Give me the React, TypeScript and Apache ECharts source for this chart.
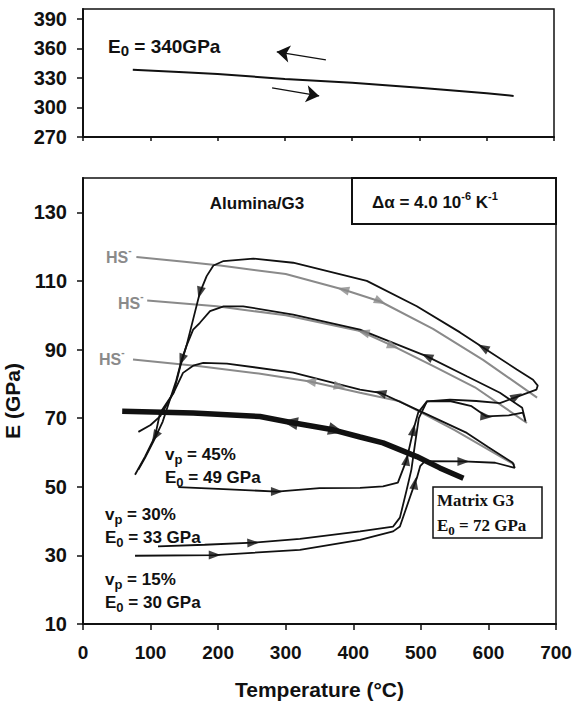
import React, { useEffect, useRef } from 'react';
import * as echarts from 'echarts';

const SANS = '"Liberation Sans", Arial, Helvetica, sans-serif';
const SERIF = '"Liberation Serif", "Times New Roman", serif';
const BLACK = '#111111';
const GRAY = '#8a8a8a';

// ---- data ----
const topYTicks = [270, 300, 330, 360, 390];
const bottomYTicks = [10, 30, 50, 70, 90, 110, 130];

// top panel: monolithic alumina, E0 = 340 GPa
const alumina: number[][] = [[74, 338.2], [150, 335.8], [200, 334], [300, 329], [400, 325], [500, 320], [600, 314.5], [640, 311.7]];
const topCoolArrow: number[][] = [[361, 348.3], [288, 356.5]];
const topHeatArrow: number[][] = [[281, 319.8], [351, 311.7]];

// Hashin-Shtrikman bounds (grey)
const hsUpper: number[][] = [[79, 117], [150, 115.6], [203, 114.5], [300, 112], [385, 107.5], [440, 104], [518, 96], [592, 87], [672, 76]];
const hsMiddle: number[][] = [[95, 104.3], [198, 102.6], [300, 100], [410, 95.4], [459, 91], [520, 85], [580, 79], [657, 68.6]];
const hsLower: number[][] = [[74, 87.1], [173, 85.1], [260, 83], [336, 80.7], [410, 77.4], [469, 74.9], [550, 66.5], [639, 56.4]];

// composites (black)
const vp45: number[][] = [[141, 49.9], [200, 49.4], [287, 48.6], [350, 49.6], [410, 49.7], [444, 50.1], [466, 51.2], [479, 57.9], [489, 66.6], [496, 71.6], [509, 74.9], [543, 75.4], [582, 75], [617, 74.4], [645, 76.4], [671, 78.3], [673, 79.5], [666, 81.2], [642, 84.2], [592, 90.6], [558, 95], [494, 102.6], [420, 110], [311, 115.3], [252, 116.5], [208, 115.8], [193, 114.5], [183, 111.4], [173, 106.6], [163, 98.8], [153, 91], [144, 85.1], [134, 77.4], [114, 71.5], [106.6, 64.7], [91.8, 58.8], [77, 53.5]];
const vp30: number[][] = [[111, 32.6], [180, 33.1], [252, 33.7], [321, 34.8], [410, 37], [459, 38.4], [469, 41], [479, 49.1], [486, 55], [491, 62], [497, 70], [509, 74.9], [543, 75], [575, 73.5], [597, 70.5], [630, 70.8], [651, 71.6], [655, 69], [650, 73], [617, 77.4], [568, 82.2], [509, 88], [410, 95.8], [311, 100.2], [237, 102.6], [208, 102.6], [188, 101.2], [173, 97.8], [163, 95.8], [153, 91], [146, 87], [138, 81], [128, 75], [118, 69], [105, 63.5], [92, 58.5], [82, 55]];
const vp15: number[][] = [[77, 29.9], [195, 30.1], [321, 31.6], [410, 34.5], [459, 37], [469, 38.4], [477, 43], [484, 47], [491, 51], [494, 52.5], [499, 56], [506, 57.5], [563, 57.4], [610, 57], [639, 55.5], [636, 57], [600, 61.5], [568, 65.7], [494, 72.5], [440, 77.4], [410, 78.3], [311, 83.3], [213, 85.9], [178, 86.1], [163, 85.3], [148, 83.2], [134, 77.4], [114, 70.5], [100, 68], [82, 66]];
const matrixG3: number[][] = [[58, 72], [163, 71.5], [262, 70.5], [306, 68.8], [370, 66.6], [410, 64.5], [444, 62.8], [494, 58.8], [528, 55.5], [563, 52.5]];

// arrow heads: [T, E, direction in degrees]
const blackArrows: number[][] = [[287, 48.6, 0], [195, 30.1, 0], [252, 33.7, 2], [479, 57.9, 80], [489, 66.6, 80], [491, 51, 80], [563, 57.4, 0], [597, 70.5, -5], [642, 76.4, 30], [592, 90.6, 150], [509, 88, 155], [440, 77.4, 165], [173, 106.6, 255], [146, 87, 250], [106.6, 64.7, 240]];
const grayArrows: number[][] = [[385, 107.5, 165], [440, 104, -25], [415, 95, 165], [459, 91, -20], [336, 80.7, 170], [380, 79.3, -10]];
const matrixArrows: number[][] = [[306, 68.8, 170], [375, 66.4, -15]];

const richBase = (size: number, family: string, color: string) => ({
  n: { fontSize: size, fontWeight: 'bold', fontFamily: family, fill: color, color, lineHeight: 24 },
  sub: { fontSize: size - 4, fontWeight: 'bold', fontFamily: family, fill: color, color, lineHeight: 14, verticalAlign: 'bottom' },
  sup: { fontSize: size - 6, fontWeight: 'bold', fontFamily: family, fill: color, color, lineHeight: 14, verticalAlign: 'top' },
});

function label(text: string, x: number, y: number, size = 17, family = SANS, color = BLACK, align = 'left') {
  return {
    type: 'text',
    x,
    y,
    z: 100,
    style: {
      text,
      fill: color,
      font: `bold ${size}px ${family}`,
      align,
      verticalAlign: 'middle',
      rich: richBase(size, family, color),
    },
  };
}

const arrowSeries = (name: string, data: number[][], color: string, size: number[], xi: number) => ({
  name,
  type: 'scatter',
  xAxisIndex: xi,
  yAxisIndex: xi,
  symbol: 'triangle',
  symbolSize: size,
  itemStyle: { color },
  silent: true,
  z: 5,
  data: data.map((d) => ({ value: [d[0], d[1]], symbolRotate: d[2] - 90 })),
});

const lineSeries = (name: string, data: number[][], color: string, width: number, xi: number, z = 3) => ({
  name,
  type: 'line',
  xAxisIndex: xi,
  yAxisIndex: xi,
  data,
  showSymbol: false,
  symbol: 'none',
  lineStyle: { color, width },
  silent: true,
  z,
});

export default function App() {
  const ref = useRef<HTMLDivElement>(null);
  useEffect(() => {
    if (!ref.current) return;
    const chart = echarts.init(ref.current, undefined, { renderer: 'svg' });
    const axisLabelStyle = { color: BLACK, fontFamily: SANS, fontWeight: 'bold', fontSize: 20 };
    const option: any = {
      animation: false,
      backgroundColor: '#ffffff',
      grid: [
        { left: 83, right: 19, top: 9, height: 128, show: true, borderColor: BLACK, borderWidth: 1.5, containLabel: false, outerBoundsMode: 'none' },
        { left: 83, right: 17, top: 178, height: 446, show: true, borderColor: BLACK, borderWidth: 1.5, containLabel: false, outerBoundsMode: 'none' },
      ],
      xAxis: [
        {
          gridIndex: 0, type: 'value', min: 0, max: 700, interval: 100,
          axisLine: { onZero: false, lineStyle: { color: BLACK, width: 2 } },
          axisTick: { show: true, inside: false, length: 4, lineStyle: { color: BLACK, width: 1.5 } },
          axisLabel: { show: false },
          splitLine: { show: false },
        },
        {
          gridIndex: 1, type: 'value', min: 0, max: 700, interval: 100,
          name: 'Temperature (°C)', nameLocation: 'middle', nameGap: 55,
          nameTextStyle: { color: BLACK, fontFamily: SANS, fontWeight: 'bold', fontSize: 21 },
          axisLine: { onZero: false, lineStyle: { color: BLACK, width: 2 } },
          axisTick: { show: true, inside: false, length: 6, lineStyle: { color: BLACK, width: 1.5 } },
          axisLabel: { ...axisLabelStyle, fontSize: 19, margin: 19 },
          splitLine: { show: false },
        },
      ],
      yAxis: [
        {
          gridIndex: 0, type: 'value', min: 270, max: 400, interval: 30,
          axisLine: { onZero: false, lineStyle: { color: BLACK, width: 2 } },
          axisTick: { show: true, inside: false, length: 6, customValues: topYTicks, lineStyle: { color: BLACK, width: 1.5 } },
          axisLabel: { ...axisLabelStyle, margin: 16, customValues: topYTicks },
          splitLine: { show: false },
        },
        {
          gridIndex: 1, type: 'value', min: 10, max: 140, interval: 20,
          name: 'E (GPa)', nameLocation: 'middle', nameGap: 50, nameRotate: 90,
          nameTextStyle: { color: BLACK, fontFamily: SANS, fontWeight: 'bold', fontSize: 21 },
          axisLine: { onZero: false, lineStyle: { color: BLACK, width: 2 } },
          axisTick: { show: true, inside: false, length: 6, customValues: bottomYTicks, lineStyle: { color: BLACK, width: 1.5 } },
          axisLabel: { ...axisLabelStyle, margin: 16, customValues: bottomYTicks },
          splitLine: { show: false },
        },
      ],
      series: [
        {
          ...lineSeries('alumina', alumina, BLACK, 2, 0),
          markLine: {
            silent: true,
            symbol: ['none', 'arrow'],
            symbolSize: 13,
            label: { show: false },
            lineStyle: { color: BLACK, width: 1.3, type: 'solid' },
            data: [
              [{ coord: topCoolArrow[0] }, { coord: topCoolArrow[1] }],
              [{ coord: topHeatArrow[0] }, { coord: topHeatArrow[1] }],
            ],
          },
        },
        lineSeries('HS upper', hsUpper, GRAY, 2, 1),
        lineSeries('HS middle', hsMiddle, GRAY, 2, 1),
        lineSeries('HS lower', hsLower, GRAY, 2, 1),
        lineSeries('vp 45%', vp45, BLACK, 1.8, 1, 4),
        lineSeries('vp 30%', vp30, BLACK, 1.8, 1, 4),
        lineSeries('vp 15%', vp15, BLACK, 1.8, 1, 4),
        lineSeries('Matrix G3', matrixG3, BLACK, 5.5, 1, 4),
        arrowSeries('arrows black', blackArrows, BLACK, [9, 12], 1),
        arrowSeries('arrows gray', grayArrows, GRAY, [9, 12], 1),
        arrowSeries('arrows matrix', matrixArrows, BLACK, [13, 16], 1),
      ],
      graphic: [
        label('E{sub|0}{n| = 340GPa}', 108, 46, 19),
        label('{n|Alumina/G3}', 257, 203, 17, SANS, BLACK, 'center'),
        { type: 'rect', z: 99, shape: { x: 352, y: 178, width: 204, height: 46 }, style: { fill: '#fff', stroke: BLACK, lineWidth: 2 } },
        label('{n|Δα = 4.0 10}{sup|-6}{n| K}{sup|-1}', 372, 202, 17),
        label('{n|v}{sub|p}{n| = 45%}', 165, 454),
        label('{n|E}{sub|0}{n| = 49 GPa}', 165, 477),
        label('{n|v}{sub|p}{n| = 30%}', 105, 514),
        label('{n|E}{sub|0}{n| = 33 GPa}', 105, 537),
        label('{n|v}{sub|p}{n| = 15%}', 105, 579),
        label('{n|E}{sub|0}{n| = 30 GPa}', 105, 602),
        { type: 'rect', z: 99, shape: { x: 433, y: 487, width: 109, height: 51 }, style: { fill: '#fff', stroke: BLACK, lineWidth: 1.5 } },
        label('{n|Matrix G3}', 437, 500, 17, SERIF),
        label('{n|E}{sub|0}{n| = 72 GPa}', 437, 525, 17, SERIF),
        label('{n|HS}{sup|-}', 106, 257, 16, SANS, GRAY),
        label('{n|HS}{sup|-}', 118, 303, 16, SANS, GRAY),
        label('{n|HS}{sup|-}', 99, 359, 16, SANS, GRAY),
      ],
    };
    chart.setOption(option);
    return () => chart.dispose();
  }, []);
  return <div ref={ref} style={{ position: 'absolute', left: 0, top: 0, width: 573, height: 704 }} />;
}
